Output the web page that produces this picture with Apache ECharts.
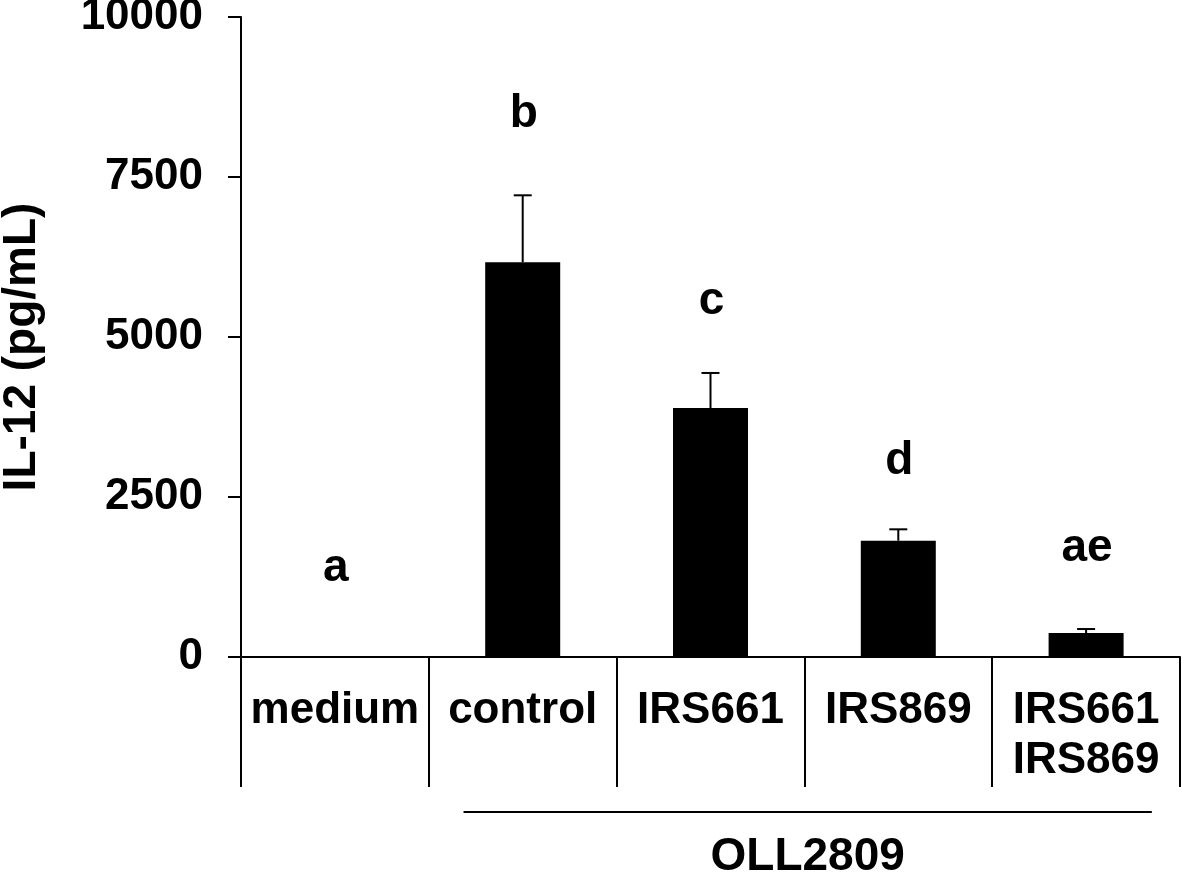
<!DOCTYPE html>
<html>
<head>
<meta charset="utf-8">
<script src="https://cdn.jsdelivr.net/npm/echarts@6/dist/echarts.min.js"></script>
<style>
  html, body { margin: 0; padding: 0; background: #fff; }
  #chart { width: 1182px; height: 875px; }
</style>
</head>
<body>
<div id="chart"></div>
<script>
// ---- data ----
const categories = ['medium', 'control', 'IRS661', 'IRS869', 'IRS661\nIRS869'];
const meanValues = [0, 6167, 3891, 1817, 375];
const errorValues = [0, 1047, 547, 178, 62];
const letters = ['a', 'b', 'c', 'd', 'ae'];
const letterLevels = [1390, 8484, 5562, 3062, 1703];
const yTicks = [0, 2500, 5000, 7500, 10000];
const groupLabel = 'OLL2809';
const groupFrom = 1, groupTo = 4;
const yTitle = 'IL-12 (pg/mL)';

const FONT = '"Liberation Sans", Arial, sans-serif';
const chart = echarts.init(document.getElementById('chart'), null, { renderer: 'canvas' });

const option = {
  backgroundColor: '#fff',
  animation: false,
  grid: { left: 241, right: 2, top: 17, bottom: 218, containLabel: false, outerBoundsMode: 'none' },
  xAxis: {
    type: 'category',
    data: categories,
    boundaryGap: true,
    axisLine: { lineStyle: { color: '#000', width: 2 } },
    axisTick: { show: true, interval: 0, length: 130, lineStyle: { color: '#000', width: 2 } },
    axisLabel: {
      interval: 0, color: '#000', fontFamily: FONT, fontWeight: 'bold', fontSize: 44,
      lineHeight: 50, margin: 29
    },
    splitLine: { show: false }
  },
  yAxis: {
    type: 'value',
    min: yTicks[0], max: yTicks[yTicks.length - 1], interval: yTicks[1] - yTicks[0],
    name: yTitle,
    nameLocation: 'middle',
    nameGap: 196,
    nameTextStyle: { color: '#000', fontFamily: FONT, fontWeight: 'bold', fontSize: 46, padding: [0, 20, 0, 0] },
    axisLine: { show: true, lineStyle: { color: '#000', width: 2 } },
    axisTick: { show: true, inside: false, length: 13, lineStyle: { color: '#000', width: 2 } },
    axisLabel: { color: '#000', fontFamily: FONT, fontWeight: 'bold', fontSize: 44, margin: 38,
      formatter: v => String(v) },
    splitLine: { show: false }
  },
  series: [
    {
      type: 'bar',
      data: meanValues,
      barWidth: 75,
      itemStyle: { color: '#000' },
      z: 2
    },
    {
      type: 'custom',
      data: categories.map((c, i) => [i, meanValues[i], errorValues[i]]),
      z: 3,
      renderItem: function (params, api) {
        const i = api.value(0);
        const m = api.value(1);
        const e = api.value(2);
        if (!e) return null;
        const p1 = api.coord([i, m]);
        const p2 = api.coord([i, m + e]);
        const cap = 9;
        const style = { stroke: '#000', lineWidth: 2 };
        return {
          type: 'group',
          children: [
            { type: 'line', shape: { x1: p1[0], y1: p1[1], x2: p2[0], y2: p2[1] }, style },
            { type: 'line', shape: { x1: p2[0] - cap, y1: p2[1], x2: p2[0] + cap, y2: p2[1] }, style }
          ]
        };
      }
    },
    {
      type: 'custom',
      data: letters.map((l, i) => [i, letterLevels[i]]),
      z: 4,
      clip: false,
      renderItem: function (params, api) {
        const p = api.coord([api.value(0), api.value(1)]);
        return {
          type: 'text', x: p[0] + 1, y: p[1],
          style: { text: letters[params.dataIndex], fill: '#000', font: 'bold 46px ' + FONT,
            align: 'center', verticalAlign: 'middle' }
        };
      }
    },
    {
      type: 'custom',
      data: [[groupFrom, groupTo]],
      z: 5,
      clip: false,
      renderItem: function (params, api) {
        const a = api.coord([api.value(0), 0]);
        const b = api.coord([api.value(1), 0]);
        const band = api.size([1, 0])[0];
        const x1 = a[0] - 0.315 * band;
        const x2 = b[0] + 0.35 * band;
        const y = a[1] + 155;
        return {
          type: 'group',
          children: [
            { type: 'line', shape: { x1: x1, y1: y, x2: x2, y2: y }, style: { stroke: '#000', lineWidth: 2 } },
            { type: 'text', x: (x1 + x2) / 2, y: y + 45,
              style: { text: groupLabel, fill: '#000', font: 'bold 46px ' + FONT, align: 'center', verticalAlign: 'middle' } }
          ]
        };
      }
    }
  ]
};
chart.setOption(option);
</script>
</body>
</html>
